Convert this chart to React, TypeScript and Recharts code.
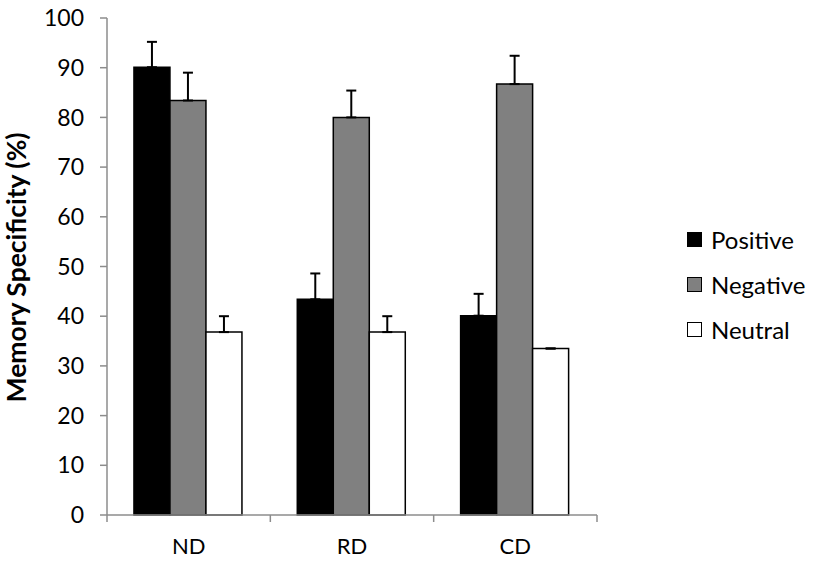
import { BarChart, Bar, XAxis, YAxis, ErrorBar, Legend } from "recharts";

const groups = ["ND", "RD", "CD"];
const seriesOrder = ["Positive", "Negative", "Neutral"];
const positive = [90.1, 43.4, 40.1];
const negative = [83.4, 80.0, 86.7];
const neutral = [36.8, 36.8, 33.5];
const positiveErr = [5.1, 5.2, 4.4];
const negativeErr = [5.6, 5.4, 5.7];
const neutralErr = [3.2, 3.2, 0];
const yTicks = [0, 10, 20, 30, 40, 50, 60, 70, 80, 90, 100];

const FONT = "Lato, 'Open Sans', sans-serif";
const AXIS = "#8c8c8c";

const data = groups.map((g, i) => ({
  group: g,
  Positive: positive[i],
  Negative: negative[i],
  Neutral: neutral[i],
  posErr: [0, positiveErr[i]],
  negErr: [0, negativeErr[i]],
  neuErr: [0, neutralErr[i]],
}));

const PLOT_W = 597 - 107;

// category label plus tick marks on the category boundaries
function CategoryTick(props: any) {
  const { x, y, payload, index } = props;
  const step = PLOT_W / groups.length;
  const isLast = index === groups.length - 1;
  return (
    <g>
      <line x1={x - step / 2} y1={y - 8} x2={x - step / 2} y2={y - 1} stroke={AXIS} strokeWidth={1.5} />
      {isLast && (
        <line x1={x + step / 2} y1={y - 8} x2={x + step / 2} y2={y - 1} stroke={AXIS} strokeWidth={1.5} />
      )}
      <text x={x} y={y + 31} textAnchor="middle" fill="#000" fontSize={22} fontFamily={FONT}>
        {payload.value}
      </text>
    </g>
  );
}

function LegendBox({ payload }: any) {
  const items = [...(payload || [])].sort(
    (a: any, b: any) => seriesOrder.indexOf(a.value) - seriesOrder.indexOf(b.value)
  );
  return (
    <div style={{ display: "flex", flexDirection: "column", gap: 15, fontFamily: FONT, width: 130 }}>
      {items.map((p: any) => (
        <div key={p.value} style={{ display: "flex", alignItems: "center", gap: 9, height: 30 }}>
          <span
            style={{
              display: "inline-block",
              width: 13,
              height: 13,
              background: p.color,
              border: "1.5px solid #000",
            }}
          />
          <span style={{ fontSize: 24, color: "#000" }}>{p.value}</span>
        </div>
      ))}
    </div>
  );
}

export default function App() {
  return (
    <div style={{ position: "absolute", left: 0, top: 0, background: "#fff" }}>
      <BarChart
        width={817}
        height={569}
        data={data}
        margin={{ top: 18, right: 90, bottom: 0, left: 0 }}
        barCategoryGap="16.5%"
        barGap={0}
      >
        <XAxis
          dataKey="group"
          stroke={AXIS}
          strokeWidth={1.5}
          tickLine={false}
          tick={<CategoryTick />}
          interval={0}
          height={54}
        />
        <YAxis
          domain={[0, 100]}
          ticks={yTicks}
          interval={0}
          width={107}
          stroke={AXIS}
          strokeWidth={1.5}
          tickSize={7}
          tickMargin={16}
          tick={{ fill: "#000", fontSize: 23, fontFamily: FONT }}
          label={{
            value: "Memory Specificity (%)",
            angle: -90,
            position: "insideLeft",
            dx: 12,
            dy: 136,
            style: { fontSize: 26.5, fontWeight: 700, fill: "#000", fontFamily: FONT },
          }}
        />
        <Legend
          layout="vertical"
          align="right"
          verticalAlign="middle"
          wrapperStyle={{ left: 687, top: 224 }}
          content={<LegendBox />}
        />
        <Bar dataKey="Positive" fill="#000000" stroke="#000" strokeWidth={1.5} isAnimationActive={false}>
          <ErrorBar dataKey="posErr" width={5} stroke="#000" strokeWidth={2} direction="y" />
        </Bar>
        <Bar dataKey="Negative" fill="#808080" stroke="#000" strokeWidth={1.5} isAnimationActive={false}>
          <ErrorBar dataKey="negErr" width={5} stroke="#000" strokeWidth={2} direction="y" />
        </Bar>
        <Bar dataKey="Neutral" fill="#ffffff" stroke="#000" strokeWidth={1.5} isAnimationActive={false}>
          <ErrorBar dataKey="neuErr" width={5} stroke="#000" strokeWidth={2} direction="y" />
        </Bar>
      </BarChart>
    </div>
  );
}
